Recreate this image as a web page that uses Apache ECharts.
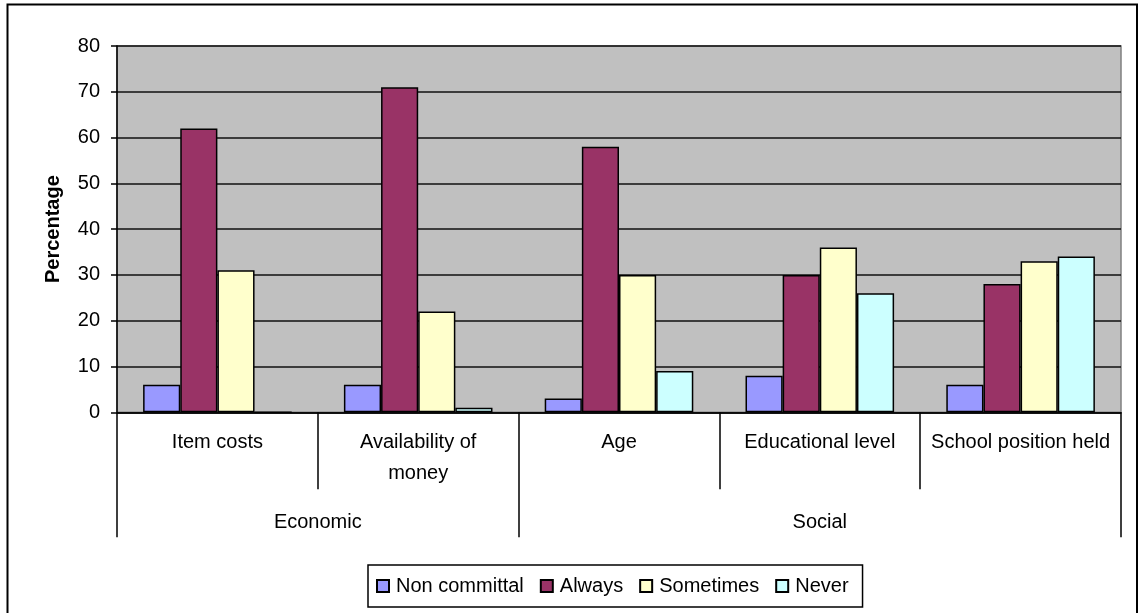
<!DOCTYPE html>
<html>
<head>
<meta charset="utf-8">
<script src="https://cdn.jsdelivr.net/npm/echarts@6/dist/echarts.min.js"></script>
<style>
html,body{margin:0;padding:0;background:#fff;}
#chart{width:1139px;height:613px;}
</style>
</head>
<body>
<div id="chart"></div>
<script>
const categories = ['Item costs', 'Availability of money', 'Age', 'Educational level', 'School position held'];
const categoryLineBreaks = { 'Availability of money': 'Availability of\nmoney' };
const groups = ['Economic', 'Social'];
const groupSizes = [2, 3];
const seriesNames = ['Non committal', 'Always', 'Sometimes', 'Never'];
const nonCommittal = [6, 6, 3, 8, 6];
const always = [62, 71, 58, 30, 28];
const sometimes = [31, 22, 30, 36, 33];
const never = [0, 1, 9, 26, 34];
const seriesColors = ['#9999FF', '#993366', '#FFFFCC', '#CCFFFF'];
const yMin = 0, yMax = 80, yInterval = 10;

const seriesValues = [nonCommittal, always, sometimes, never];

// group boundaries and centers on a 0..N scale
const groupTicks = [0];
const groupCenters = [];
groupSizes.forEach(function (s) {
  const start = groupTicks[groupTicks.length - 1];
  groupCenters.push(start + s / 2);
  groupTicks.push(start + s);
});

const FONT = 'Liberation Sans';
const chart = echarts.init(document.getElementById('chart'));
chart.setOption({
  animation: false,
  backgroundColor: '#fff',
  textStyle: { fontFamily: FONT },
  graphic: [{
    type: 'rect',
    shape: { x: 7.5, y: 4.5, width: 1129.5, height: 620 },
    style: { fill: 'none', stroke: '#000', lineWidth: 2 },
    silent: true
  }],
  grid: {
    left: 117, right: 18, top: 46, bottom: 200.7,
    show: true, backgroundColor: '#C0C0C0', borderColor: '#808080', borderWidth: 1.5
  },
  legend: {
    left: 368, top: 565,
    data: seriesNames,
    icon: 'rect',
    itemWidth: 12, itemHeight: 12, itemGap: 16,
    padding: [11, 14, 11, 8],
    borderColor: '#000', borderWidth: 1.5,
    textStyle: { fontFamily: FONT, fontSize: 20, color: '#000', padding: [0, 0, 0, 2] }
  },
  xAxis: [{
    type: 'category',
    data: categories,
    position: 'bottom',
    axisLine: { show: true, lineStyle: { color: '#000', width: 1.5 } },
    axisTick: { show: true, interval: 0, length: 77, lineStyle: { color: '#000', width: 1.5 } },
    axisLabel: {
      interval: 0, margin: 15, color: '#000', fontFamily: FONT, fontSize: 20,
      lineHeight: 31, align: 'center',
      formatter: function (v) { return categoryLineBreaks[v] || v; }
    },
    splitLine: { show: false }
  }, {
    type: 'value',
    min: 0, max: categories.length,
    position: 'bottom',
    axisLine: { show: false },
    splitLine: { show: false },
    axisTick: { show: true, customValues: groupTicks, length: 125, lineStyle: { color: '#000', width: 1.5 } },
    axisLabel: {
      customValues: groupCenters, margin: 100, color: '#000', fontFamily: FONT, fontSize: 20,
      formatter: function (v) {
        const i = groupCenters.indexOf(v);
        return i >= 0 ? groups[i] : '';
      }
    }
  }],
  yAxis: {
    type: 'value',
    min: yMin, max: yMax, interval: yInterval,
    name: 'Percentage',
    nameLocation: 'middle',
    nameGap: 54,
    nameRotate: 90,
    nameTextStyle: { fontFamily: FONT, fontSize: 20, fontWeight: 'bold', color: '#000' },
    axisLine: { show: true, lineStyle: { color: '#000', width: 1.5 } },
    axisTick: { show: true, length: 6, lineStyle: { color: '#000', width: 1.5 } },
    axisLabel: { margin: 17, color: '#000', fontFamily: FONT, fontSize: 20 },
    splitLine: { show: true, lineStyle: { color: '#111', width: 1.5 } }
  },
  series: seriesNames.map(function (name, i) {
    return {
      name: name,
      type: 'bar',
      xAxisIndex: 0,
      data: seriesValues[i],
      barGap: '0%',
      barCategoryGap: '26%',
      itemStyle: { color: seriesColors[i], borderColor: '#000', borderWidth: 1.5 }
    };
  })
});
</script>
</body>
</html>
